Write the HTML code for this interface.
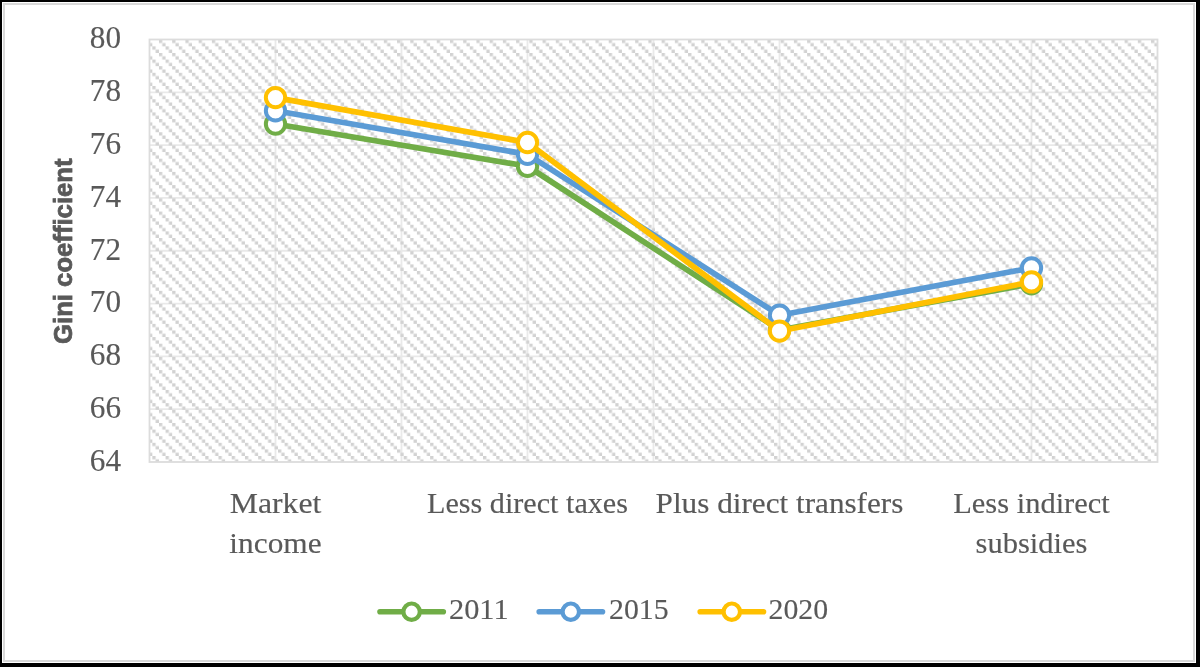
<!DOCTYPE html><html><head><meta charset="utf-8"><style>html,body{margin:0;padding:0;background:#000;width:1200px;height:667px;overflow:hidden}svg{display:block;will-change:transform}.sf{font-family:"Liberation Serif",serif;fill:#595959;stroke:#595959;stroke-width:0.15}</style></head><body>
<svg width="1200" height="667" viewBox="0 0 1200 667">
<defs><pattern id="hp" patternUnits="userSpaceOnUse" x="158.95" y="39.75" width="13.228" height="13.2148">
<rect x="0.0" y="0.0" width="3.307" height="3.3037" fill="#d2d2d2"/>
<rect x="3.307" y="3.3037" width="3.307" height="3.3037" fill="#d2d2d2"/>
<rect x="6.614" y="6.6074" width="3.307" height="3.3037" fill="#d2d2d2"/>
<rect x="9.921" y="9.911100000000001" width="3.307" height="3.3037" fill="#d2d2d2"/>
</pattern><clipPath id="pc"><rect x="149.50" y="39.50" width="1008.00" height="422.50"/></clipPath></defs>
<rect x="2" y="2" width="1194" height="661" fill="#fff"/>
<rect x="4" y="4" width="1190" height="657" fill="none" stroke="#d9d9d9" stroke-width="2"/>
<rect x="149.5" y="39.5" width="1008.0" height="422.5" fill="#fff"/>
<line x1="149.5" y1="409.19" x2="1157.5" y2="409.19" stroke="#e9e9e9" stroke-width="1.8"/>
<line x1="149.5" y1="356.38" x2="1157.5" y2="356.38" stroke="#e9e9e9" stroke-width="1.8"/>
<line x1="149.5" y1="303.56" x2="1157.5" y2="303.56" stroke="#e9e9e9" stroke-width="1.8"/>
<line x1="149.5" y1="250.75" x2="1157.5" y2="250.75" stroke="#e9e9e9" stroke-width="1.8"/>
<line x1="149.5" y1="197.94" x2="1157.5" y2="197.94" stroke="#e9e9e9" stroke-width="1.8"/>
<line x1="149.5" y1="145.12" x2="1157.5" y2="145.12" stroke="#e9e9e9" stroke-width="1.8"/>
<line x1="149.5" y1="92.31" x2="1157.5" y2="92.31" stroke="#e9e9e9" stroke-width="1.8"/>
<line x1="275.50" y1="39.5" x2="275.50" y2="462.0" stroke="#e9e9e9" stroke-width="1.8"/>
<line x1="401.50" y1="39.5" x2="401.50" y2="462.0" stroke="#e9e9e9" stroke-width="1.8"/>
<line x1="527.50" y1="39.5" x2="527.50" y2="462.0" stroke="#e9e9e9" stroke-width="1.8"/>
<line x1="653.50" y1="39.5" x2="653.50" y2="462.0" stroke="#e9e9e9" stroke-width="1.8"/>
<line x1="779.50" y1="39.5" x2="779.50" y2="462.0" stroke="#e9e9e9" stroke-width="1.8"/>
<line x1="905.50" y1="39.5" x2="905.50" y2="462.0" stroke="#e9e9e9" stroke-width="1.8"/>
<line x1="1031.50" y1="39.5" x2="1031.50" y2="462.0" stroke="#e9e9e9" stroke-width="1.8"/>
<rect x="149.5" y="39.5" width="1008.0" height="422.5" fill="url(#hp)"/>
<rect x="149.5" y="39.5" width="1008.0" height="422.5" fill="none" stroke="#dcdcdc" stroke-width="1.8"/>
<text x="121" y="470.80" class="sf" font-size="31" text-anchor="end" textLength="31.2" lengthAdjust="spacingAndGlyphs">64</text>
<text x="121" y="417.99" class="sf" font-size="31" text-anchor="end" textLength="31.2" lengthAdjust="spacingAndGlyphs">66</text>
<text x="121" y="365.18" class="sf" font-size="31" text-anchor="end" textLength="31.2" lengthAdjust="spacingAndGlyphs">68</text>
<text x="121" y="312.36" class="sf" font-size="31" text-anchor="end" textLength="31.2" lengthAdjust="spacingAndGlyphs">70</text>
<text x="121" y="259.55" class="sf" font-size="31" text-anchor="end" textLength="31.2" lengthAdjust="spacingAndGlyphs">72</text>
<text x="121" y="206.74" class="sf" font-size="31" text-anchor="end" textLength="31.2" lengthAdjust="spacingAndGlyphs">74</text>
<text x="121" y="153.93" class="sf" font-size="31" text-anchor="end" textLength="31.2" lengthAdjust="spacingAndGlyphs">76</text>
<text x="121" y="101.11" class="sf" font-size="31" text-anchor="end" textLength="31.2" lengthAdjust="spacingAndGlyphs">78</text>
<text x="121" y="48.30" class="sf" font-size="31" text-anchor="end" textLength="31.2" lengthAdjust="spacingAndGlyphs">80</text>
<text transform="translate(72,251.2) rotate(-90)" font-family="Liberation Sans" font-weight="bold" font-size="26" fill="#595959" stroke="#595959" stroke-width="0.8" text-anchor="middle" textLength="185.5" lengthAdjust="spacingAndGlyphs">Gini coefficient</text>
<text x="275.50" y="512.5" class="sf" font-size="30" text-anchor="middle" textLength="91.6" lengthAdjust="spacingAndGlyphs">Market</text>
<text x="275.50" y="552.5" class="sf" font-size="30" text-anchor="middle" textLength="92.3" lengthAdjust="spacingAndGlyphs">income</text>
<text x="527.50" y="512.5" class="sf" font-size="30" text-anchor="middle" textLength="200.9" lengthAdjust="spacingAndGlyphs">Less direct taxes</text>
<text x="779.50" y="512.5" class="sf" font-size="30" text-anchor="middle" textLength="247.8" lengthAdjust="spacingAndGlyphs">Plus direct transfers</text>
<text x="1031.50" y="512.5" class="sf" font-size="30" text-anchor="middle" textLength="156.6" lengthAdjust="spacingAndGlyphs">Less indirect</text>
<text x="1031.50" y="552.5" class="sf" font-size="30" text-anchor="middle" textLength="111.8" lengthAdjust="spacingAndGlyphs">subsidies</text>
<polyline points="275.50,124.00 527.50,166.25 779.50,329.97 1031.50,283.76" fill="none" stroke="#70AD47" stroke-width="5.7" stroke-linejoin="round"/>
<circle cx="275.50" cy="124.00" r="9.65" fill="#fff" stroke="#70AD47" stroke-width="4.0"/>
<circle cx="527.50" cy="166.25" r="9.65" fill="#fff" stroke="#70AD47" stroke-width="4.0"/>
<circle cx="779.50" cy="329.97" r="9.65" fill="#fff" stroke="#70AD47" stroke-width="4.0"/>
<circle cx="1031.50" cy="283.76" r="9.65" fill="#fff" stroke="#70AD47" stroke-width="4.0"/>
<polyline points="275.50,110.80 527.50,154.37 779.50,315.18 1031.50,267.91" fill="none" stroke="#5B9BD5" stroke-width="5.7" stroke-linejoin="round"/>
<circle cx="275.50" cy="110.80" r="9.65" fill="#fff" stroke="#5B9BD5" stroke-width="4.0"/>
<circle cx="527.50" cy="154.37" r="9.65" fill="#fff" stroke="#5B9BD5" stroke-width="4.0"/>
<circle cx="779.50" cy="315.18" r="9.65" fill="#fff" stroke="#5B9BD5" stroke-width="4.0"/>
<circle cx="1031.50" cy="267.91" r="9.65" fill="#fff" stroke="#5B9BD5" stroke-width="4.0"/>
<polyline points="275.50,97.59 527.50,142.48 779.50,331.03 1031.50,281.91" fill="none" stroke="#FFC000" stroke-width="5.7" stroke-linejoin="round"/>
<circle cx="275.50" cy="97.59" r="9.65" fill="#fff" stroke="#FFC000" stroke-width="4.0"/>
<circle cx="527.50" cy="142.48" r="9.65" fill="#fff" stroke="#FFC000" stroke-width="4.0"/>
<circle cx="779.50" cy="331.03" r="9.65" fill="#fff" stroke="#FFC000" stroke-width="4.0"/>
<circle cx="1031.50" cy="281.91" r="9.65" fill="#fff" stroke="#FFC000" stroke-width="4.0"/>
<line x1="380.0" y1="611.7" x2="443.30" y2="611.7" stroke="#70AD47" stroke-width="5.6" stroke-linecap="round"/>
<circle cx="411.60" cy="611.7" r="8.2" fill="#fff" stroke="#70AD47" stroke-width="4.2"/>
<text x="449.0" y="619.2" class="sf" font-size="30" textLength="59.6" lengthAdjust="spacingAndGlyphs">2011</text>
<line x1="539.2" y1="611.7" x2="602.50" y2="611.7" stroke="#5B9BD5" stroke-width="5.6" stroke-linecap="round"/>
<circle cx="570.80" cy="611.7" r="8.2" fill="#fff" stroke="#5B9BD5" stroke-width="4.2"/>
<text x="609.0" y="619.2" class="sf" font-size="30" textLength="59.6" lengthAdjust="spacingAndGlyphs">2015</text>
<line x1="700.2" y1="611.7" x2="763.50" y2="611.7" stroke="#FFC000" stroke-width="5.6" stroke-linecap="round"/>
<circle cx="731.80" cy="611.7" r="8.2" fill="#fff" stroke="#FFC000" stroke-width="4.2"/>
<text x="768.5" y="619.2" class="sf" font-size="30" textLength="59.6" lengthAdjust="spacingAndGlyphs">2020</text>
</svg></body></html>
